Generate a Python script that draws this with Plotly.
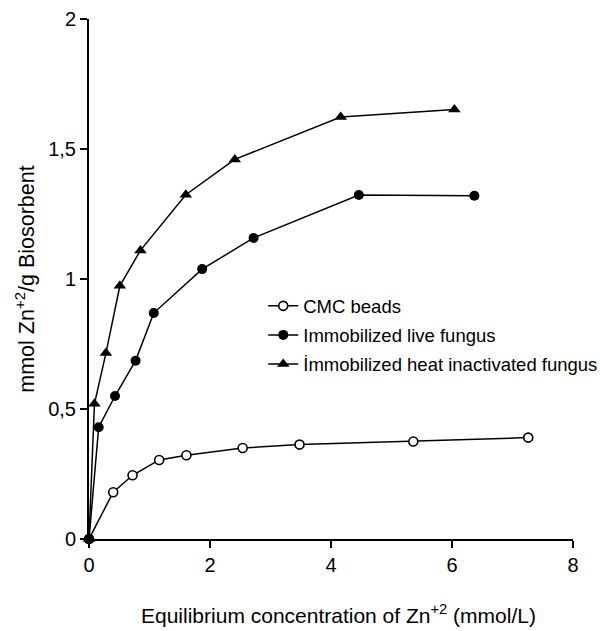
import plotly.graph_objects as go

# Data
cmc_x = [0, 0.40, 0.72, 1.16, 1.61, 2.54, 3.48, 5.36, 7.26]
cmc_y = [0, 0.18, 0.245, 0.304, 0.322, 0.35, 0.363, 0.375, 0.39]

live_x = [0, 0.16, 0.43, 0.77, 1.07, 1.87, 2.72, 4.46, 6.37]
live_y = [0, 0.43, 0.55, 0.686, 0.869, 1.038, 1.158, 1.323, 1.32]

heat_x = [0, 0.09, 0.28, 0.51, 0.85, 1.60, 2.41, 4.16, 6.04]
heat_y = [0, 0.52, 0.715, 0.974, 1.11, 1.324, 1.46, 1.623, 1.652]

names = ["CMC beads", "Immobilized live fungus", "İmmobilized heat inactivated fungus"]

x_ticks = [0, 2, 4, 6, 8]
x_ticktext = ["0", "2", "4", "6", "8"]
y_ticks = [0, 0.5, 1, 1.5, 2]
y_ticktext = ["0", "0,5", "1", "1,5", "2"]

x_title = "Equilibrium concentration of Zn<sup>+2</sup> (mmol/L)"
y_title = "mmol Zn<sup>+2</sup>/g Biosorbent"

FONT = "Liberation Sans, Arial, Helvetica, sans-serif"

fig = go.Figure()
fig.add_trace(go.Scatter(
    x=cmc_x, y=cmc_y, name=names[0], mode="lines+markers", legendgroup="a",
    line=dict(color="black", width=1.5),
    marker=dict(symbol="circle", size=9, color="white", line=dict(color="black", width=1.6)),
    cliponaxis=False,
))
fig.add_trace(go.Scatter(
    x=live_x, y=live_y, name=names[1], mode="lines+markers", legendgroup="b",
    line=dict(color="black", width=1.5),
    marker=dict(symbol="circle", size=10, color="black", line=dict(color="black", width=0)),
    cliponaxis=False,
))
fig.add_trace(go.Scatter(
    x=heat_x, y=heat_y, name=names[2], mode="lines+markers", legendgroup="c",
    line=dict(color="black", width=1.5),
    marker=dict(symbol="triangle-up", size=11, color="black", line=dict(color="black", width=0)),
    cliponaxis=False,
))

fig.add_annotation(
    text=x_title, xref="paper", yref="paper", x=0.5165, y=0,
    xanchor="center", yanchor="middle", yshift=-75, showarrow=False,
    font=dict(size=21, family=FONT, color="black"),
)

fig.update_layout(
    width=600, height=631,
    margin=dict(l=89, r=27, t=19, b=92, autoexpand=False),
    paper_bgcolor="white", plot_bgcolor="white",
    font=dict(family=FONT, color="black", size=20),
    showlegend=True,
    legend=dict(
        x=0.36, y=0.484, xanchor="left", yanchor="top",
        font=dict(size=18.5, family=FONT, color="black"),
        bgcolor="rgba(0,0,0,0)", borderwidth=0,
        tracegroupgap=2, itemwidth=30,
    ),
    xaxis=dict(
        range=[0, 8], tickmode="array", tickvals=x_ticks, ticktext=x_ticktext,
        showgrid=False, zeroline=False, showline=True, linecolor="black", linewidth=2,
        ticks="outside", ticklen=7, tickwidth=2, tickcolor="black",
        tickfont=dict(size=20),
    ),
    yaxis=dict(
        range=[0, 2], tickmode="array", tickvals=y_ticks, ticktext=y_ticktext,
        showgrid=False, zeroline=False, showline=True, linecolor="black", linewidth=2,
        ticks="outside", ticklen=7, tickwidth=2, tickcolor="black",
        tickfont=dict(size=20),
        title=dict(text=y_title, font=dict(size=21.5), standoff=8),
    ),
)

fig.write_html("out.html")
